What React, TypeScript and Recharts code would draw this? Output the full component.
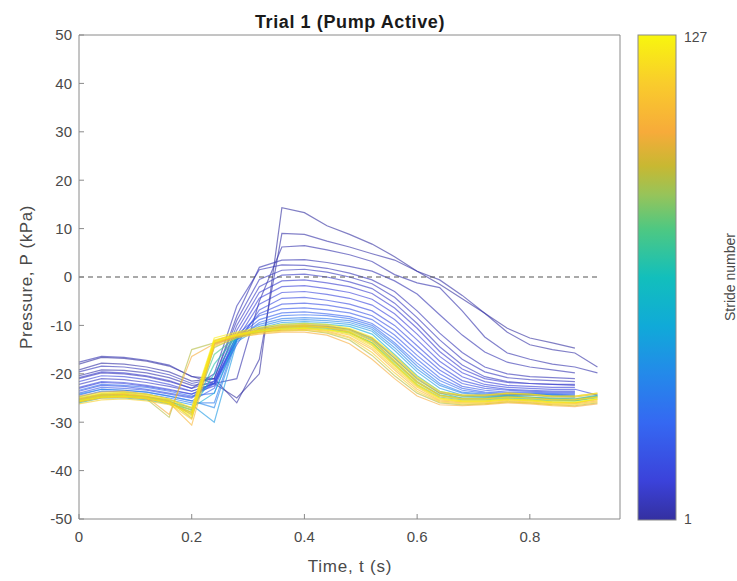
import React from 'react';
import { LineChart, Line, XAxis, YAxis, ReferenceLine } from 'recharts';

// sample times (s) – strides end at 0.88 or 0.92
const time = [0, 0.04, 0.08, 0.12, 0.16, 0.2, 0.24, 0.28, 0.32, 0.36, 0.4, 0.44, 0.48, 0.52, 0.56, 0.6, 0.64, 0.68, 0.72, 0.76, 0.8, 0.84, 0.88, 0.92];
const xTicks = [0, 0.2, 0.4, 0.6, 0.8];
const yTicks = [-50, -40, -30, -20, -10, 0, 10, 20, 30, 40, 50];
const strideMin = 1;
const strideMax = 127;

// pressure (kPa) per stride
const stride001 = [-18, -16.6, -16.8, -17.4, -18.4, -20.5, -22, -25, -20, 14.3, 13.3, 10.6, 8.8, 6.8, 4.2, 1.2, -1.5, -4.5, -7.5, -10.6, -12.6, -13.6, -14.7];
const stride002 = [-19.2, -17.8, -18, -18.6, -19.6, -21.5, -21, -26, -17, 9, 8.8, 7.4, 6.2, 4.8, 3.5, 1.2, -0.6, -3.8, -7.5, -11.4, -14, -15, -15.7, -18.6];
const stride003 = [-20.4, -19.2, -19.3, -19.8, -20.8, -22.4, -22, -21, -5, 6.2, 6.5, 5.6, 4.6, 3.2, 0.5, -1.2, -2.2, -7, -12.4, -15.7, -17, -18, -18.6, -19.8];
const stride004 = [-17.6, -16.4, -16.6, -17.2, -18.2, -20.6, -21, -8, 2, 3.5, 3.6, 3, 2.2, 1.2, -0.8, -3.5, -7.8, -12, -15.5, -17.6, -18.6, -19.2, -19.8];
const stride005 = [-21, -19.8, -20, -20.6, -21.6, -23, -20, -6, 1.5, 2.5, 2.4, 1.8, 0.8, -0.6, -3, -7, -11.6, -15.6, -18.6, -20, -20.6, -20.8, -21];
const stride006 = [-19.6, -18.4, -18.6, -19.2, -20.2, -22, -21, -9, -0.5, 1.4, 1.6, 1, 0, -1.4, -4.2, -8.4, -13, -17, -19.6, -20.8, -21.2, -21.4, -21.6];
const stride007 = [-22.2, -21, -21.2, -21.8, -22.6, -23.6, -22, -10, -2, 0.4, 0.6, 0, -1, -2.4, -5.4, -9.6, -14.4, -18.2, -20.6, -21.6, -22, -22.2, -22.4];
const stride009 = [-20.8, -19.6, -19.8, -20.4, -21.4, -23, -21.5, -11, -3.2, -0.8, -0.6, -1.2, -2, -3.4, -6.4, -10.6, -15.4, -19, -21, -21.8, -22, -22.2, -22.2];
const stride011 = [-23, -21.8, -22, -22.6, -23.4, -24.2, -22.5, -12, -4.4, -2, -1.8, -2.4, -3.2, -4.6, -7.6, -11.8, -16.4, -19.8, -21.6, -22.4, -22.6, -22.8, -22.8];
const stride013 = [-21.6, -20.4, -20.6, -21.2, -22.2, -23.6, -22, -13, -5.6, -3.2, -3, -3.6, -4.4, -5.8, -8.8, -13, -17.4, -20.6, -22.2, -22.8, -23, -23.2, -23.2, -24.4];
const stride015 = [-22.8, -21.6, -21.8, -22.4, -23.2, -24.2, -22, -14, -6.8, -4.4, -4.2, -4.8, -5.6, -7, -10, -14.2, -18.4, -21.4, -22.6, -23.2, -23.4, -23.6, -23.6];
const stride017 = [-23.6, -22.4, -22.6, -23.2, -24, -24.8, -21.5, -13, -7.6, -5.6, -5.4, -5.8, -6.6, -8, -11, -15.2, -19.2, -22, -23, -23.4, -23.6, -23.8, -23.8];
const stride020 = [-24, -22.8, -23, -23.4, -24.2, -25, -22, -12, -8, -6.6, -6.4, -6.8, -7.4, -8.8, -12, -16.2, -20, -22.6, -23.4, -23.8, -23.8, -24, -24];
const stride024 = [-24.4, -23.2, -23.4, -23.8, -24.6, -25.6, -23, -12.5, -8.8, -7.4, -7.2, -7.6, -8.2, -9.6, -12.8, -17, -20.8, -23, -23.8, -24, -24, -24.2, -24.2];
const stride028 = [-23.4, -22.2, -22.4, -22.8, -23.6, -24.6, -24, -13, -9.4, -8, -7.8, -8, -8.6, -10, -13.6, -17.8, -21.4, -23.4, -24, -24.2, -24.2, -24.2, -24.4];
const stride033 = [-24.8, -23.6, -23.8, -24.2, -25, -26, -26, -12.6, -9.8, -8.6, -8.4, -8.6, -9, -10.4, -14, -18.4, -22, -23.8, -24.2, -24.4, -24.2, -24.4, -24.6];
const stride038 = [-24.2, -23.2, -23.4, -23.8, -24.6, -25.6, -27, -13, -10.2, -9, -8.8, -9, -9.4, -10.8, -14.6, -19, -22.4, -24, -24.4, -24.4, -24.2, -24.4, -24.6];
const stride044 = [-25.2, -24.2, -24.4, -24.8, -25.4, -26.4, -30, -13.4, -10.6, -9.4, -9.2, -9.4, -9.8, -11.2, -15.2, -19.6, -23, -24.4, -24.6, -24.6, -24.4, -24.6, -24.8];
const stride052 = [-25.6, -24.6, -24.6, -25, -25.8, -27, -24, -12.6, -10.8, -9.8, -9.6, -9.8, -10.2, -11.8, -16, -20.4, -23.6, -24.6, -24.8, -24.6, -24.8, -25, -25.2, -24.4];
const stride060 = [-26, -25, -25, -25.4, -26.2, -27.4, -20, -12.4, -11, -10.2, -10, -10.2, -10.8, -12.6, -16.8, -21, -24, -25, -25, -24.8, -25, -25.2, -25.4, -24.6];
const stride068 = [-25.4, -24.4, -24.4, -24.8, -25.6, -27.6, -18, -12.2, -11, -10.4, -10.2, -10.4, -11, -13, -17.4, -21.6, -24.4, -25.2, -25.2, -25, -25.2, -25.4, -25.6, -24.8];
const stride076 = [-25.8, -24.8, -24.6, -25, -26, -28, -16, -12.4, -11.2, -10.6, -10.4, -10.6, -11.4, -13.6, -18, -22.2, -24.8, -25.4, -25.4, -25.2, -25.4, -25.6, -25.6, -25];
const stride084 = [-25.4, -24.6, -24.4, -24.8, -25.8, -28.4, -14.6, -12.4, -11.4, -10.8, -10.6, -10.8, -11.6, -13.6, -17.6, -21.8, -24.4, -25, -25, -24.6, -24.8, -25.2, -25.2, -24.6];
const stride090 = [-25.6, -24.8, -24.6, -25.2, -29, -15, -13.6, -12.2, -11.4, -11, -11, -11.6, -13, -16.2, -20.4, -24, -26, -26.4, -26.2, -25.8, -26, -26.4, -26.6, -26];
const stride094 = [-25, -24.2, -24, -24.6, -25.6, -29.2, -14, -12.2, -11, -10.2, -10, -10.2, -10.8, -12.8, -16.8, -21.2, -24, -24.6, -24.6, -24.2, -24.4, -24.8, -24.8, -24.2];
const stride098 = [-25.8, -25, -24.8, -25.2, -26, -28, -13.8, -12, -11, -10.4, -10.2, -10.4, -11.4, -14, -18.2, -22.4, -25, -25.6, -25.6, -25.2, -25.4, -25.8, -26, -25.2];
const stride100 = [-24.6, -23.8, -23.6, -24.2, -25.2, -27.2, -13.2, -11.6, -10.6, -10, -9.8, -10, -10.8, -12.6, -16.4, -20.8, -23.8, -24.4, -24.4, -24, -24.2, -24.6, -24.6, -24];
const stride102 = [-25.2, -24.4, -24.2, -24.8, -28.4, -16.4, -13.8, -12.4, -11.8, -11.4, -11.4, -12, -13.8, -17, -21, -24.6, -26.4, -26.6, -26.4, -26, -26.2, -26.6, -26.8, -26.2];
const stride106 = [-25.6, -24.8, -24.6, -25, -26, -30.6, -14.2, -12.2, -11.4, -11, -10.8, -11.2, -12.4, -15, -19.2, -23.2, -25.6, -26, -26, -25.6, -25.8, -26.2, -26.2, -25.6];
const stride110 = [-25.2, -24.4, -24.2, -24.6, -25.6, -28.6, -13.4, -12, -11, -10.4, -10.2, -10.4, -11.2, -13.2, -17.4, -21.8, -24.6, -25.2, -25.2, -24.8, -25, -25.4, -25.4, -24.8];
const stride114 = [-25.8, -25, -24.8, -25.2, -26.2, -29.4, -13.6, -12.2, -11.4, -10.8, -10.6, -11, -12, -14.6, -18.8, -22.8, -25.4, -25.8, -25.8, -25.4, -25.6, -26, -26, -25.4];
const stride116 = [-26.2, -25.4, -25.2, -25.6, -26.4, -28.2, -14.4, -12.6, -11.6, -11.2, -11, -11.4, -12.6, -15.6, -19.8, -23.6, -25.8, -26.2, -26.2, -25.8, -26, -26.4, -26.4, -25.8];
const stride118 = [-25.4, -24.6, -24.4, -24.8, -25.8, -28, -13.2, -11.8, -10.8, -10.2, -10, -10.4, -11, -13.2, -17.2, -21.6, -24.4, -25.2, -25.2, -24.8, -25, -25.4, -25.4, -24.8];
const stride122 = [-25, -24.2, -24, -24.4, -25.4, -27.6, -13, -11.8, -11, -10.6, -10.4, -10.8, -11.8, -14.2, -18.4, -22.6, -25.2, -25.8, -25.8, -25.4, -25.6, -26, -26, -25.2];
const stride125 = [-24.8, -24, -23.8, -24.2, -25.2, -27, -12.6, -11.4, -10.4, -9.8, -9.6, -9.8, -10.6, -12.4, -16.2, -20.6, -23.6, -24.4, -24.4, -24, -24.2, -24.6, -24.6, -24];
const stride127 = [-25.6, -24.8, -24.6, -25, -26, -28.8, -13.4, -12, -11.2, -10.8, -10.6, -11, -11.4, -13.8, -18, -22.2, -25, -25.6, -25.6, -25.2, -25.4, -25.8, -25.8, -25.2];

const strides: [number, number[]][] = [
  [1, stride001], [2, stride002], [3, stride003], [4, stride004], [5, stride005],
  [6, stride006], [7, stride007], [9, stride009], [11, stride011], [13, stride013],
  [15, stride015], [17, stride017], [20, stride020], [24, stride024], [28, stride028],
  [33, stride033], [38, stride038], [44, stride044], [52, stride052], [60, stride060],
  [68, stride068], [76, stride076], [84, stride084], [90, stride090], [94, stride094],
  [98, stride098], [100, stride100], [102, stride102], [106, stride106], [110, stride110],
  [114, stride114], [116, stride116], [118, stride118], [122, stride122], [125, stride125],
  [127, stride127],
];

// parula-like colormap
const parulaStops: [number, string][] = [
  [0, '#3430a0'],
  [0.08, '#3b42da'],
  [0.2, '#3568f2'],
  [0.3, '#2489ea'],
  [0.4, '#10aad8'],
  [0.5, '#12bfbc'],
  [0.6, '#4ec882'],
  [0.67, '#96c45a'],
  [0.73, '#c8b832'],
  [0.8, '#f7ab3a'],
  [0.9, '#f9cc2c'],
  [1, '#f8f60e'],
];

function hexToRgb(h: string) {
  return [1, 3, 5].map((i) => parseInt(h.slice(i, i + 2), 16));
}

function parula(f: number) {
  for (let i = 1; i < parulaStops.length; i++) {
    const [p1, c1] = parulaStops[i];
    if (f <= p1) {
      const [p0, c0] = parulaStops[i - 1];
      const k = (f - p0) / (p1 - p0);
      const a = hexToRgb(c0);
      const b = hexToRgb(c1);
      const rgb = a.map((v, j) => Math.round(v + (b[j] - v) * k));
      return `rgb(${rgb.join(',')})`;
    }
  }
  return parulaStops[parulaStops.length - 1][1];
}

const rows = time.map((t, i) => {
  const row: Record<string, number | undefined> = { t };
  strides.forEach(([n, vals]) => {
    row['s' + n] = vals[i];
  });
  return row;
});

const font = '"Liberation Sans", Arial, sans-serif';
const axisGray = '#8a8a8a';
const textGray = '#4a4a4a';

export default function App() {
  return (
    <div style={{ position: 'absolute', left: 0, top: 0, width: 737, height: 581, background: '#fff', fontFamily: font }}>
      <LineChart width={737} height={581} data={rows} margin={{ top: 34, right: 116, bottom: 22, left: 19 }}>
        <XAxis
          dataKey="t"
          type="number"
          domain={[0, 0.96]}
          ticks={xTicks}
          tickFormatter={(v: number) => (v === 0 ? '0' : v.toFixed(1))}
          height={40}
          tickSize={-5}
          tickMargin={17}
          stroke={axisGray}
          tick={{ fill: textGray, fontSize: 15, fontFamily: font }}
        />
        <XAxis xAxisId="top" dataKey="t" orientation="top" type="number" domain={[0, 0.96]} ticks={xTicks} height={1} tickSize={-5} tick={false} stroke={axisGray} />
        <YAxis
          type="number"
          domain={[-50, 50]}
          ticks={yTicks}
          width={60}
          tickSize={-5}
          tickMargin={12}
          stroke={axisGray}
          tick={{ fill: textGray, fontSize: 15, fontFamily: font }}
        />
        <YAxis yAxisId="r" orientation="right" type="number" domain={[-50, 50]} ticks={yTicks} width={1} tickSize={-5} tick={false} stroke={axisGray} />
        {/* empty series so the top and right frame axes are drawn */}
        <Line xAxisId="top" yAxisId="r" dataKey="frame" stroke="none" dot={false} legendType="none" isAnimationActive={false} />
        {strides.map(([n]) => (
          <Line
            key={n}
            dataKey={'s' + n}
            type="linear"
            stroke={parula((n - strideMin) / (strideMax - strideMin))}
            strokeWidth={1.2}
            strokeOpacity={0.62}
            dot={false}
            isAnimationActive={false}
          />
        ))}
        <ReferenceLine
          segment={[{ x: 0, y: 0 }, { x: 0.92, y: 0 }]}
          stroke="#555"
          strokeWidth={1.2}
          strokeDasharray="5 4"
        />
      </LineChart>
      <svg width={737} height={581} style={{ position: 'absolute', left: 0, top: 0, pointerEvents: 'none' }}>
        <defs>
          <linearGradient id="parula" x1="0" y1="1" x2="0" y2="0">
            {parulaStops.map(([p, c]) => (
              <stop key={p} offset={p} stopColor={c} />
            ))}
          </linearGradient>
        </defs>
        <text x={350} y={28} textAnchor="middle" fontSize={18} fontWeight="bold" fill="#1a1a1a" fontFamily={font} letterSpacing={0.6}>
          Trial 1 (Pump Active)
        </text>
        <text x={350} y={572} textAnchor="middle" fontSize={17} fill={textGray} fontFamily={font} letterSpacing={0.8}>
          Time, t (s)
        </text>
        <text transform="translate(32,277) rotate(-90)" textAnchor="middle" fontSize={17} fill={textGray} fontFamily={font} letterSpacing={0.6}>
          Pressure, P (kPa)
        </text>
        <rect x={638} y={35} width={38} height={485} fill="url(#parula)" stroke={axisGray} strokeWidth={1} />
        <text x={684} y={42} fontSize={14} fill={textGray} fontFamily={font}>127</text>
        <text x={684} y={524} fontSize={14} fill={textGray} fontFamily={font}>1</text>
        <text transform="translate(735,277) rotate(-90)" textAnchor="middle" fontSize={14} fill={textGray} fontFamily={font}>
          Stride number
        </text>
      </svg>
    </div>
  );
}
